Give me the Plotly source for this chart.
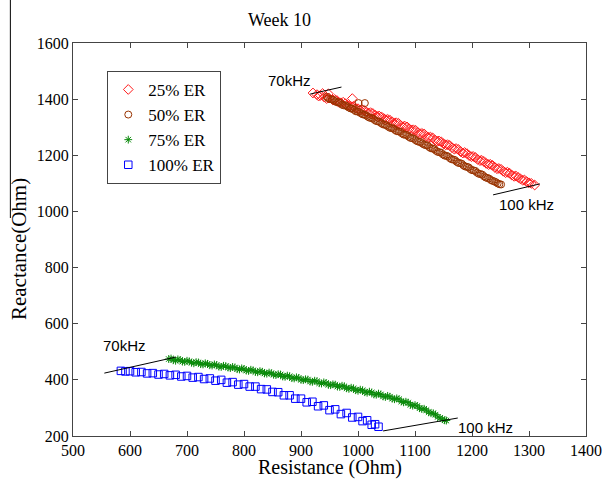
import plotly.graph_objects as go

# ---- 25% ER (resistance, reactance) ----
r25 = [921, 928, 934, 938, 941, 948, 949, 956, 963, 970, 978, 985, 990, 992, 1000, 1007,
       1015, 1022, 1030, 1037, 1045, 1052, 1060, 1067, 1075, 1082, 1090, 1097, 1105,
       1112, 1120, 1127, 1135, 1142, 1150, 1157, 1165, 1172, 1180, 1187, 1195, 1202,
       1210, 1217, 1225, 1232, 1240, 1247, 1255, 1262, 1270, 1277, 1285, 1292, 1300, 1310,
       931, 945, 959, 966, 974, 981, 989, 996, 1004, 1011, 1019, 1026, 1034, 1041, 1049,
       1056, 1064, 1071, 1079, 1086, 1094, 1101, 1109, 1116, 1124, 1131, 1139, 1146, 1154,
       1161, 1169, 1176, 1184, 1191, 1199, 1206, 1214, 1221, 1229, 1236, 1244, 1251, 1259,
       1266, 1274, 1281, 1289, 1296, 1304]
x25 = [1422, 1416, 1413, 1420, 1407, 1419, 1404, 1397, 1395, 1387, 1384, 1376, 1402, 1374,
       1366, 1363, 1354, 1352, 1343, 1340, 1331, 1328, 1319, 1316, 1306, 1304, 1294,
       1291, 1281, 1278, 1268, 1265, 1254, 1251, 1241, 1238, 1227, 1224, 1213, 1210,
       1199, 1196, 1185, 1182, 1171, 1168, 1157, 1153, 1143, 1140, 1129, 1126, 1116,
       1112, 1102, 1094,
       1411, 1402, 1399, 1389, 1389, 1378, 1373, 1368, 1361, 1360, 1350, 1349, 1338, 1337,
       1327, 1325, 1314, 1314, 1302, 1301, 1290, 1289, 1277, 1276, 1264, 1262, 1250, 1248,
       1237, 1235, 1222, 1221, 1208, 1206, 1195, 1192, 1181, 1178, 1167, 1164, 1152, 1150,
       1138, 1136, 1125, 1121, 1111, 1106, 1100]

# ---- 50% ER ----
r50 = [945, 951, 957, 963, 969, 975, 981, 987, 993, 999, 1001, 1005, 1011, 1012, 1017,
       1023, 1029, 1035, 1041, 1047, 1053, 1059, 1065, 1071, 1077, 1083, 1089, 1095,
       1101, 1107, 1113, 1119, 1125, 1131, 1137, 1143, 1149, 1155, 1161, 1167, 1173,
       1179, 1185, 1191, 1197, 1203, 1209, 1215, 1221, 1227, 1233, 1239, 1245, 1251,
       948, 954, 960, 966, 972, 978, 984, 990, 996, 1002, 1008, 1014, 1020, 1026, 1032,
       1038, 1044, 1050, 1056, 1062, 1068, 1074, 1080, 1086, 1092, 1098, 1104, 1110, 1116,
       1122, 1128, 1134, 1140, 1146, 1152, 1158, 1164, 1170, 1176, 1182, 1188, 1194, 1200,
       1206, 1212, 1218, 1224, 1230, 1236, 1242, 1248]
x50 = [1408, 1400, 1397, 1389, 1386, 1378, 1374, 1367, 1362, 1356, 1386, 1350, 1345, 1386,
       1338, 1333, 1326, 1321, 1314, 1309, 1302, 1297, 1290, 1285, 1278, 1273, 1266,
       1261, 1254, 1248, 1242, 1236, 1229, 1224, 1216, 1211, 1203, 1198, 1190, 1185,
       1177, 1172, 1164, 1159, 1151, 1146, 1138, 1133, 1125, 1119, 1112, 1107, 1100, 1096,
       1403, 1399, 1392, 1389, 1380, 1378, 1370, 1366, 1357, 1354, 1346, 1342, 1334, 1331,
       1322, 1319, 1310, 1307, 1298, 1295, 1286, 1284, 1274, 1272, 1262, 1259, 1250, 1247,
       1238, 1235, 1225, 1222, 1212, 1209, 1199, 1196, 1186, 1183, 1173, 1170, 1160, 1157,
       1147, 1144, 1134, 1131, 1121, 1117, 1109, 1104, 1097]

# ---- 75% ER ----
r75 = [668, 676, 684, 692, 700, 708, 716, 724, 732, 740, 748, 756, 764, 772, 780, 788,
       796, 804, 812, 820, 828, 836, 844, 852, 860, 868, 876, 884, 892, 900, 908, 916,
       924, 932, 940, 948, 956, 964, 972, 980, 988, 996, 1004, 1012, 1020, 1028, 1036,
       1044, 1052, 1060, 1068, 1076, 1084, 1092, 1100, 1108, 1116, 1124, 1132, 1140,
       1148, 1155,
       672, 680, 688, 696, 704, 712, 720, 728, 736, 744, 752, 760, 768, 776, 784, 792,
       800, 808, 816, 824, 832, 840, 848, 856, 864, 872, 880, 888, 896, 904, 912, 920,
       928, 936, 944, 952, 960, 968, 976, 984, 992, 1000, 1008, 1016, 1024, 1032, 1040,
       1048, 1056, 1064, 1072, 1080, 1088, 1096, 1104, 1112, 1120, 1128, 1136, 1144, 1152]
x75 = [474, 470, 473, 465, 468, 461, 463, 456, 459, 452, 455, 447, 450, 444, 446, 438,
       441, 433, 436, 428, 431, 423, 426, 418, 420, 412, 415, 406, 409, 400, 402, 394,
       397, 388, 391, 382, 384, 376, 379, 370, 372, 363, 365, 356, 358, 348, 351, 341,
       343, 333, 334, 323, 322, 311, 310, 299, 297, 285, 281, 268, 260, 255,
       476, 468, 471, 464, 466, 459, 462, 455, 457, 451, 453, 446, 449, 442, 444, 437,
       439, 432, 434, 427, 429, 422, 424, 417, 419, 411, 413, 405, 407, 399, 401, 393,
       395, 387, 389, 381, 383, 375, 377, 368, 370, 361, 363, 354, 355, 347, 348, 339,
       340, 331, 331, 320, 319, 308, 307, 296, 292, 281, 276, 264, 256]

# ---- 100% ER ----
r100 = [584, 592, 600, 610, 620, 630, 640, 650, 660, 670, 680, 690, 700, 710, 720, 730,
        740, 750, 760, 770, 780, 790, 800, 810, 820, 830, 840, 850, 860, 870, 880, 890,
        900, 910, 920, 930, 940, 950, 960, 970, 980, 990, 1000, 1008, 1016, 1024, 1030, 1036]
x100 = [432, 430, 431, 427, 428, 423, 424, 419, 421, 416, 418, 412, 414, 408, 410, 403,
        405, 397, 400, 390, 392, 383, 385, 376, 376, 367, 366, 357, 356, 345, 345, 333,
        333, 320, 322, 306, 309, 292, 295, 278, 282, 266, 268, 253, 256, 240, 242, 233]

# Frequency marker lines (resistance, reactance end points) and labels
freq_lines = [
    ((916, 1418), (971, 1443)),
    ((1237, 1059), (1319, 1098)),
    ((555, 424), (680, 481)),
    ((1044, 218), (1175, 264)),
]
freq_labels = [("70kHz", 880, 1465), ("100 kHz", 1295, 1026),
               ("70kHz", 591, 524), ("100 kHz", 1223, 229)]

serif = "Liberation Serif, Times New Roman, serif"
sans = "Liberation Sans, Arial, sans-serif"

fig = go.Figure()
fig.add_trace(go.Scatter(x=r25, y=x25, mode="markers", name="25% ER",
                         marker=dict(symbol="diamond-open", size=7.5, color="#ff1a1a",
                                     line=dict(width=1))))
fig.add_trace(go.Scatter(x=r50, y=x50, mode="markers", name="50% ER",
                         marker=dict(symbol="circle-open", size=7, color="#993300",
                                     line=dict(width=1))))
fig.add_trace(go.Scatter(x=r75, y=x75, mode="markers", name="75% ER",
                         marker=dict(symbol="asterisk-open", size=6.5, color="#0a8a0a",
                                     line=dict(width=1, color="#0a8a0a"))))
fig.add_trace(go.Scatter(x=r100, y=x100, mode="markers", name="100% ER",
                         marker=dict(symbol="square-open", size=7.5, color="#0000ff",
                                     line=dict(width=1))))

shapes = []
for (a, b) in freq_lines:
    shapes.append(dict(type="line", xref="x", yref="y", x0=a[0], y0=a[1], x1=b[0], y1=b[1],
                       line=dict(color="black", width=1)))
# stray rule at the far left
shapes.append(dict(type="line", xref="paper", yref="paper", x0=-0.1221, x1=-0.1221,
                   y0=0.5547, y1=1.11, line=dict(color="black", width=1)))

annotations = []
for txt, rx, ry in freq_labels:
    annotations.append(dict(text=txt, x=rx, y=ry, xref="x", yref="y", showarrow=False,
                            xanchor="center", yanchor="middle",
                            font=dict(family=sans, size=15, color="black")))
annotations.append(dict(text="Resistance (Ohm)", x=0.5, y=-0.0805, xref="paper", yref="paper",
                        showarrow=False, xanchor="center", yanchor="middle",
                        font=dict(family=serif, size=20, color="black")))
annotations.append(dict(text="Reactance(Ohm)", x=-0.105, y=0.476, xref="paper", yref="paper",
                        showarrow=False, textangle=-90, xanchor="center", yanchor="middle",
                        font=dict(family=serif, size=21, color="black")))
annotations.append(dict(text="Week 10", x=0.403, y=1.0585, xref="paper", yref="paper",
                        showarrow=False, xanchor="center", yanchor="middle",
                        font=dict(family=serif, size=18, color="black")))

axis_common = dict(showgrid=False, zeroline=False, showline=True, linecolor="#444",
                   linewidth=1, mirror="ticks", ticks="inside", ticklen=5, tickcolor="#444",
                   tickfont=dict(family=serif, size=16, color="black"))

fig.update_layout(
    width=614, height=480,
    margin=dict(l=73, r=17, t=43, b=44),
    paper_bgcolor="white", plot_bgcolor="white",
    showlegend=True,
    legend=dict(x=0.0668, y=0.929, xanchor="left", yanchor="top",
                bordercolor="#444", borderwidth=1, bgcolor="white",
                font=dict(family=serif, size=17, color="black"),
                tracegroupgap=0),
    xaxis=dict(range=[500, 1400], tickvals=list(range(500, 1401, 100)), **axis_common),
    yaxis=dict(range=[200, 1600], tickvals=list(range(200, 1601, 200)), **axis_common),
    shapes=shapes, annotations=annotations,
)

fig.write_html("out.html")
